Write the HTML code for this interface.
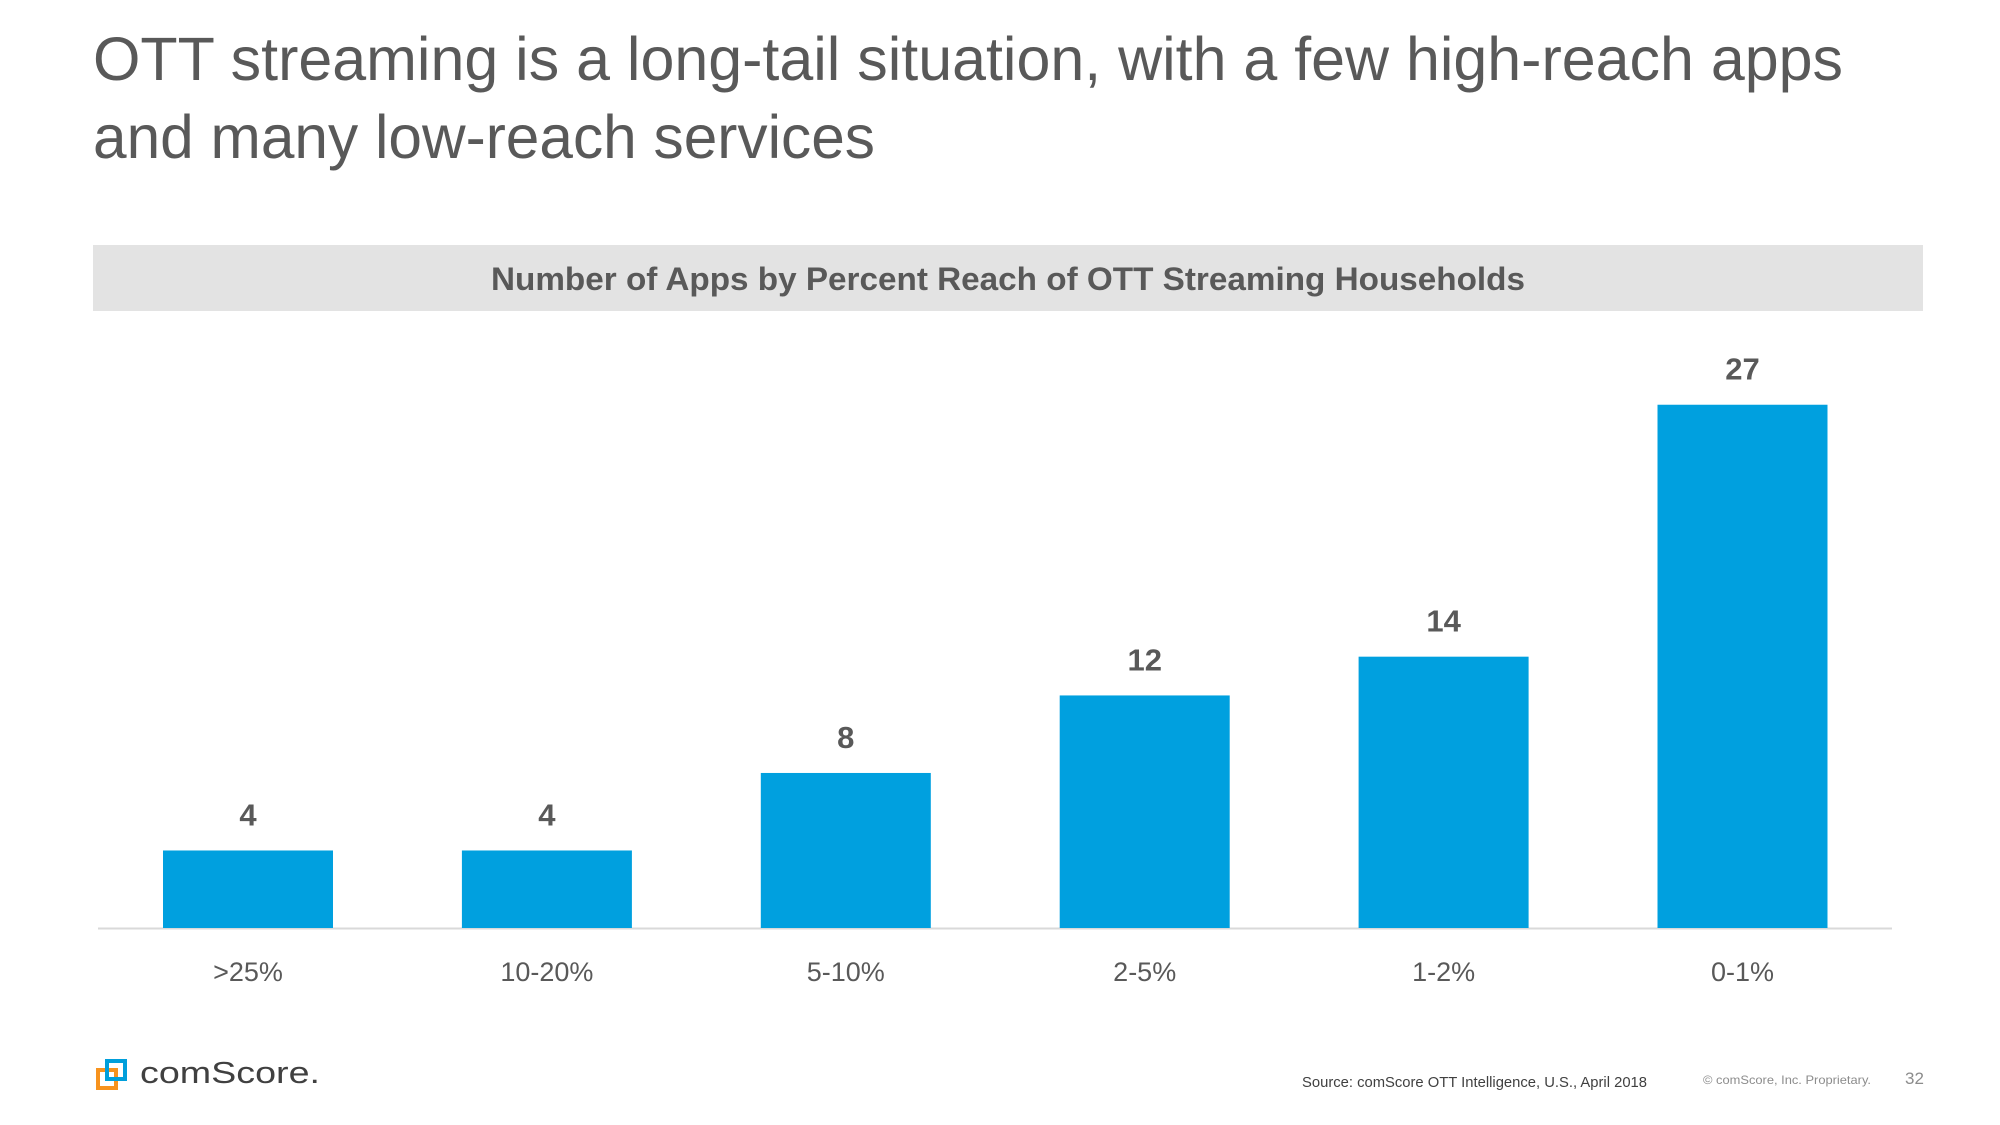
<!DOCTYPE html>
<html><head><meta charset="utf-8"><style>
html,body{margin:0;padding:0;background:#fff;}
svg{display:block;font-family:"Liberation Sans",sans-serif;}
</style></head><body>
<svg id="chart" width="2000" height="1125" viewBox="0 0 2000 1125" xmlns="http://www.w3.org/2000/svg">
<text x="93" y="80" font-size="61" fill="#595959" textLength="1750" lengthAdjust="spacingAndGlyphs">OTT streaming is a long-tail situation, with a few high-reach apps</text>
<text x="93" y="158" font-size="61" fill="#595959" textLength="782" lengthAdjust="spacingAndGlyphs">and many low-reach services</text>
<rect x="93" y="245" width="1830" height="66" fill="#e3e3e3"/>
<text x="1008" y="290" font-size="32" font-weight="bold" fill="#595959" text-anchor="middle" textLength="1034" lengthAdjust="spacingAndGlyphs">Number of Apps by Percent Reach of OTT Streaming Households</text>
<line x1="98" y1="928.5" x2="1892" y2="928.5" stroke="#d9d9d9" stroke-width="2"/>
<g id="bars"></g>
<g>
<rect x="98" y="1070" width="18" height="18" fill="none" stroke="#f7931e" stroke-width="4"/>
<rect x="107" y="1061" width="18" height="18" fill="none" stroke="#009fdb" stroke-width="4"/>
<text x="140" y="1083" font-size="31" fill="#404040" textLength="180" lengthAdjust="spacingAndGlyphs">comScore.</text>
</g>
<text x="1302" y="1087" font-size="15" fill="#404040" textLength="345" lengthAdjust="spacingAndGlyphs">Source: comScore OTT Intelligence, U.S., April 2018</text>
<text x="1703" y="1084" font-size="12" fill="#8c8c8c" textLength="168" lengthAdjust="spacingAndGlyphs">© comScore, Inc. Proprietary.</text>
<text x="1905" y="1084" font-size="17" fill="#8c8c8c">32</text>
</svg>
<script>
const categories = [">25%", "10-20%", "5-10%", "2-5%", "1-2%", "0-1%"];
const values = [4, 4, 8, 12, 14, 27];
const valueLabels = ["4", "4", "8", "12", "14", "27"];
const NS = "http://www.w3.org/2000/svg";
const g = document.getElementById("bars");
const baseY = 928, unit = 19.38, x0 = 248, step = 298.9, bw = 170;
const yScale = v => baseY - v * unit;
const xCenter = i => x0 + i * step;
categories.forEach((c, i) => {
  const r = document.createElementNS(NS, "rect");
  r.setAttribute("x", xCenter(i) - bw / 2);
  r.setAttribute("y", yScale(values[i]));
  r.setAttribute("width", bw);
  r.setAttribute("height", baseY - yScale(values[i]));
  r.setAttribute("fill", "#00a0df");
  
  
  g.appendChild(r);
  const t = document.createElementNS(NS, "text");
  t.setAttribute("x", xCenter(i));
  t.setAttribute("y", yScale(values[i]) - 25);
  t.setAttribute("text-anchor", "middle");
  t.setAttribute("font-size", "31");
  t.setAttribute("font-weight", "bold");
  t.setAttribute("fill", "#595959");
  t.textContent = valueLabels[i];
  
  
  g.appendChild(t);
  const l = document.createElementNS(NS, "text");
  l.setAttribute("x", xCenter(i));
  l.setAttribute("y", 981);
  l.setAttribute("text-anchor", "middle");
  l.setAttribute("font-size", "27");
  l.setAttribute("fill", "#595959");
  l.textContent = c;
  
  
  g.appendChild(l);
});
</script>
</body></html>
